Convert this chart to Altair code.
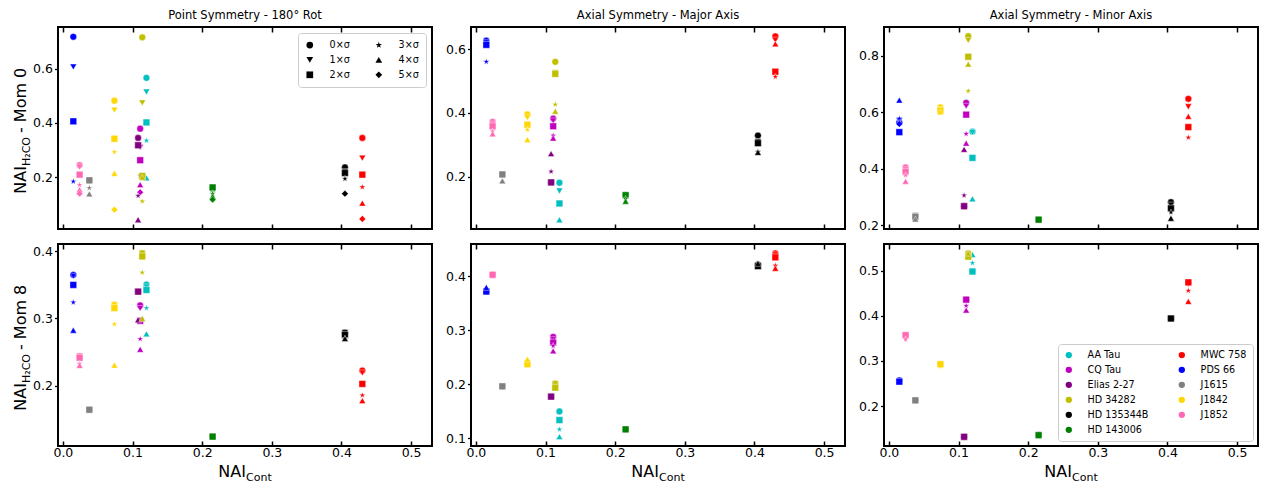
import altair as alt
import pandas as pd

FONT = "DejaVu Sans"

SOURCES = ["AA Tau", "CQ Tau", "Elias 2-27", "HD 34282", "HD 135344B", "HD 143006",
           "MWC 758", "PDS 66", "J1615", "J1842", "J1852"]
NAI_CONT = [0.120, 0.111, 0.108, 0.114, 0.405, 0.215, 0.430, 0.015, 0.038, 0.074, 0.024]
COLORS = ["#00BFBF", "#BF00BF", "#800080", "#BFBF00", "#000000", "#008000",
          "#FF0000", "#0000FF", "#808080", "#FFD700", "#FF69B4"]
SIGMAS = ["0×σ", "1×σ", "2×σ", "3×σ", "4×σ", "5×σ"]

N = None
# rows follow SOURCES; columns are 0σ..5σ
PS_MOM0 = [
    [0.566, 0.514, 0.402, 0.335, 0.198, N],
    [0.379, 0.310, 0.263, 0.206, 0.173, 0.145],
    [0.345, 0.318, 0.318, 0.132, 0.044, N],
    [0.715, 0.474, 0.205, 0.112, 0.200, N],
    [0.237, 0.222, 0.216, 0.195, N, 0.140],
    [0.158, 0.155, 0.163, 0.140, 0.130, 0.118],
    [0.345, 0.271, 0.210, 0.164, 0.105, 0.047],
    [0.717, 0.606, 0.406, 0.185, N, N],
    [0.189, 0.189, 0.189, 0.161, 0.139, N],
    [0.482, 0.447, 0.342, 0.293, 0.215, 0.081],
    [0.245, 0.238, 0.210, 0.172, 0.155, 0.140],
]
PS_MOM8 = [
    [0.3505, 0.347, 0.3425, 0.3155, 0.277, N],
    [0.3195, 0.315, 0.2965, 0.2695, 0.254, N],
    [0.340, 0.340, 0.340, N, 0.298, N],
    [0.3975, 0.3975, 0.3925, 0.3685, 0.300, N],
    [0.279, 0.279, 0.2755, 0.270, 0.270, N],
    [0.124, 0.124, 0.124, N, N, N],
    [0.2225, 0.219, 0.2025, 0.1855, 0.1775, N],
    [0.365, 0.363, 0.350, 0.324, 0.2825, N],
    [0.164, 0.164, 0.164, N, N, N],
    [0.3205, 0.3205, 0.3155, 0.2915, 0.2305, N],
    [0.244, 0.244, 0.2415, 0.2325, 0.230, N],
]
MAJ_MOM0 = [
    [0.181, 0.155, 0.116, N, 0.065, N],
    [0.382, 0.375, 0.358, 0.329, 0.321, N],
    [0.182, 0.182, 0.182, 0.216, 0.272, N],
    [0.560, 0.526, 0.522, 0.426, 0.405, N],
    [0.329, 0.310, 0.305, 0.278, 0.276, N],
    [0.142, 0.142, 0.142, 0.131, 0.123, N],
    [0.640, 0.628, 0.529, 0.513, 0.616, N],
    [0.626, 0.620, 0.613, 0.560, N, N],
    [0.207, 0.207, 0.207, N, 0.187, N],
    [0.395, 0.385, 0.363, 0.347, 0.316, N],
    [0.372, 0.365, 0.358, 0.342, 0.334, N],
]
MAJ_MOM8 = [
    [0.150, N, 0.134, 0.1168, 0.1032, N],
    [0.288, 0.283, 0.2775, 0.2713, 0.262, N],
    [0.1774, 0.1774, 0.1774, N, N, N],
    [0.2015, 0.2015, 0.194, N, N, N],
    [0.422, 0.420, 0.419, N, 0.424, N],
    [0.1168, 0.1168, 0.1168, N, N, N],
    [0.4427, 0.440, 0.4353, 0.420, 0.415, N],
    [0.372, 0.372, 0.372, N, 0.3796, N],
    [0.1965, 0.1965, 0.1965, N, N, N],
    [0.240, 0.240, 0.2374, N, 0.2466, N],
    [0.403, 0.403, 0.403, N, N, N],
]
MIN_MOM0 = [
    [0.531, 0.528, 0.438, N, 0.293, N],
    [0.633, 0.621, 0.591, 0.523, 0.490, N],
    [0.267, 0.267, 0.267, 0.305, 0.468, N],
    [0.869, 0.854, 0.796, 0.675, 0.770, N],
    [0.281, 0.271, 0.259, 0.245, 0.224, N],
    [0.219, 0.219, 0.219, N, N, N],
    [0.647, 0.619, 0.547, 0.510, 0.585, N],
    [0.564, 0.570, 0.529, 0.577, 0.6425, 0.558],
    [0.233, 0.233, 0.229, N, 0.221, N],
    [0.617, 0.609, 0.605, N, 0.601, N],
    [0.404, 0.396, 0.388, 0.376, 0.355, N],
]
MIN_MOM8 = [
    [0.498, 0.498, 0.498, 0.517, 0.5355, N],
    [0.4356, 0.432, 0.4356, 0.422, 0.4126, N],
    [0.1318, 0.1318, 0.1318, N, N, N],
    [0.5385, 0.531, 0.531, N, 0.5385, N],
    [0.394, 0.394, 0.394, N, N, N],
    [0.1356, 0.1356, 0.1356, N, N, N],
    [0.474, 0.4704, 0.474, 0.4556, 0.4318, N],
    [0.257, 0.254, 0.254, N, N, N],
    [0.2126, 0.2126, 0.2126, N, N, N],
    [0.2926, 0.288, 0.2926, N, N, N],
    [0.357, 0.348, 0.357, 0.348, N, N],
]

XTICKS = [0.0, 0.1, 0.2, 0.3, 0.4, 0.5]
XDOM = [-0.007, 0.53]

STAR = ("M0,-1L0.2234,-0.3074L0.9511,-0.309L0.3614,0.1174L0.5878,0.809L0,0.38"
        "L-0.5878,0.809L-0.3614,0.1174L-0.9511,-0.309L-0.2234,-0.3074Z")
SHAPES = ["circle", "triangle-down", "square", STAR, "triangle-up", "diamond"]

W, H = 374, 202


def make_df(rows):
    recs = []
    for si, (src, x) in enumerate(zip(SOURCES, NAI_CONT)):
        for k, v in enumerate(rows[si]):
            if v is not None:
                recs.append({"source": src, "nai_cont": x, "sigma": SIGMAS[k],
                             "nai_h2co": v})
    return pd.DataFrame(recs)


def panel(rows, ydom, yticks, title=None, xlabels=False, ylab=None,
          shape_legend=False, color_legend=False):
    df = make_df(rows)
    xs = alt.Scale(domain=XDOM, nice=False, zero=False)
    ys = alt.Scale(domain=ydom, nice=False, zero=False)

    if color_legend:
        cleg = alt.Legend(title=None, orient="bottom-right", columns=2, offset=5,
                          padding=6, fillColor="white", strokeColor="#cccccc",
                          cornerRadius=3, labelFont=FONT, labelFontSize=9.6,
                          labelColor="black", symbolType="circle", symbolSize=40,
                          symbolStrokeWidth=0, symbolOpacity=1, rowPadding=4,
                          columnPadding=28, labelOffset=14)
    else:
        cleg = None
    if shape_legend:
        sleg = alt.Legend(title=None, orient="top-right", columns=2, offset=6,
                          padding=7, fillColor="white", strokeColor="#cccccc",
                          cornerRadius=3, labelFont=FONT, labelFontSize=9.6,
                          labelColor="black", symbolFillColor="black",
                          symbolStrokeColor="black", symbolStrokeWidth=0,
                          symbolSize=45, symbolOpacity=1, rowPadding=4,
                          columnPadding=24, labelOffset=15)
    else:
        sleg = None

    pts = alt.Chart(df).mark_point(filled=True, opacity=1, size=45,
                                   stroke="white", strokeWidth=0.4).encode(
        x=alt.X("nai_cont:Q", scale=xs,
                axis=alt.Axis(values=XTICKS, format=".1f", orient="bottom",
                              offset=-5, domain=False, grid=False, tickSize=5,
                              tickWidth=1.5, tickColor="black", labels=xlabels,
                              labelFont=FONT, labelFontSize=12.5,
                              labelColor="black", labelPadding=0.5, title=None)),
        y=alt.Y("nai_h2co:Q", scale=ys,
                axis=alt.Axis(values=yticks, format=".1f", orient="left",
                              domain=False, grid=False, tickSize=3.5,
                              tickWidth=1.3, tickColor="black", labelFont=FONT,
                              labelFontSize=12.5, labelColor="black",
                              labelPadding=2, title=None)),
        color=alt.Color("source:N",
                        scale=alt.Scale(domain=SOURCES, range=COLORS),
                        legend=cleg),
        shape=alt.Shape("sigma:N",
                        scale=alt.Scale(domain=SIGMAS, range=SHAPES),
                        legend=sleg),
    )
    top = alt.Chart(df).mark_point(opacity=0).encode(
        x=alt.X("nai_cont:Q", scale=xs,
                axis=alt.Axis(values=XTICKS, orient="top", offset=-5,
                              domain=False, grid=False, labels=False,
                              tickSize=5, tickWidth=1.5, tickColor="black",
                              title=None)),
    )
    layers = [pts, top]
    if ylab is not None:
        j1 = H / 2 + 38
        j2 = j1 - 33
        layers.append(alt.Chart(pd.DataFrame({"t": ["NAI"]})).mark_text(
            angle=270, align="right", baseline="alphabetic", font=FONT,
            fontSize=16, color="black").encode(
            text="t:N", x=alt.value(-32), y=alt.value(j1)))
        layers.append(alt.Chart(pd.DataFrame({"t": ["H₂CO"]})).mark_text(
            angle=270, align="left", baseline="alphabetic", font=FONT,
            fontSize=11, color="black").encode(
            text="t:N", x=alt.value(-28), y=alt.value(j1)))
        layers.append(alt.Chart(pd.DataFrame({"t": [ylab]})).mark_text(
            angle=270, align="left", baseline="alphabetic", font=FONT,
            fontSize=16, color="black").encode(
            text="t:N", x=alt.value(-32), y=alt.value(j2)))
    if xlabels:
        layers.append(alt.Chart(pd.DataFrame({"t": ["NAI"]})).mark_text(
            align="right", baseline="alphabetic", font=FONT, fontSize=16,
            color="black").encode(
            text="t:N", x=alt.value(W / 2 + 1), y=alt.value(H + 30.6)))
        layers.append(alt.Chart(pd.DataFrame({"t": ["Cont"]})).mark_text(
            align="left", baseline="alphabetic", font=FONT, fontSize=11,
            color="black").encode(
            text="t:N", x=alt.value(W / 2 + 1), y=alt.value(H + 34.6)))

    ch = alt.layer(*layers).resolve_axis(x="independent")
    props = dict(width=W, height=H)
    if title:
        props["title"] = alt.TitleParams(title, font=FONT, fontSize=11.5,
                                         fontWeight="normal", color="black",
                                         offset=5, anchor="middle")
    return ch.properties(**props)


RES = dict(color="independent", shape="independent")

row1 = alt.hconcat(
    panel(PS_MOM0, [0.010, 0.753], [0.2, 0.4, 0.6], title="Point Symmetry - 180° Rot",
          ylab=" - Mom 0", shape_legend=True),
    panel(MAJ_MOM0, [0.036, 0.669], [0.2, 0.4, 0.6], title="Axial Symmetry - Major Axis"),
    panel(MIN_MOM0, [0.186, 0.9015], [0.2, 0.4, 0.6, 0.8], title="Axial Symmetry - Minor Axis"),
    spacing=11,
).resolve_scale(**RES).resolve_legend(**RES)

row2 = alt.hconcat(
    panel(PS_MOM8, [0.110, 0.411], [0.2, 0.3, 0.4], xlabels=True, ylab=" - Mom 8"),
    panel(MAJ_MOM8, [0.086, 0.460], [0.1, 0.2, 0.3, 0.4], xlabels=True),
    panel(MIN_MOM8, [0.1115, 0.559], [0.2, 0.3, 0.4, 0.5], xlabels=True,
          color_legend=True),
    spacing=11,
).resolve_scale(**RES).resolve_legend(**RES)

chart = alt.vconcat(row1, row2, spacing=9).resolve_scale(**RES).resolve_legend(**RES)
chart = chart.properties(padding={"left": 4, "top": 0, "right": 0, "bottom": 0},
                         background="white").configure_view(
    stroke="black", strokeWidth=2).configure_text(font=FONT)

chart.save("out.html", embed_options={"renderer": "svg", "actions": False})
